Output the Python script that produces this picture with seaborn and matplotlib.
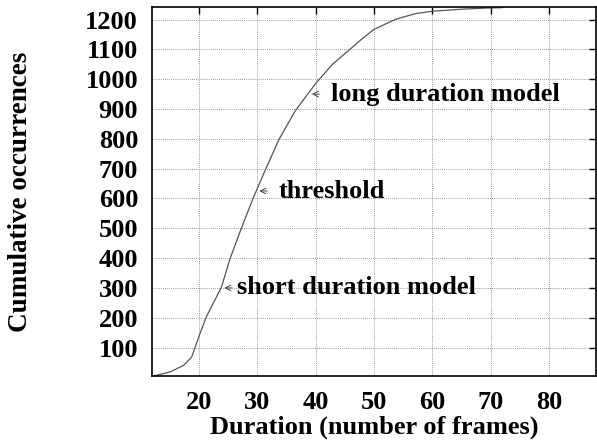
import matplotlib
matplotlib.use("Agg")
import matplotlib.pyplot as plt
import seaborn as sns
import pandas as pd

# cumulative curve
duration = [12, 12.8, 15.1, 17.4, 18.8, 19.9, 21.3, 23.9, 25.4, 27.3, 29.3, 31.5,
            33.8, 36.5, 40.0, 42.9, 45.7, 48.0, 50.0, 53.7, 57.1, 60, 65.1, 69.7, 72]
occurrences = [4, 7, 18, 40, 68, 130, 203, 303, 400, 500, 600, 700,
               800, 893, 985, 1050, 1097, 1136, 1167, 1201, 1220, 1228, 1235, 1239, 1240]

x_ticks = [20, 30, 40, 50, 60, 70, 80]
y_ticks = [100, 200, 300, 400, 500, 600, 700, 800, 900, 1000, 1100, 1200]

# annotation label, arrow tip (x, y), text start x
labels = ["long duration model", "threshold", "short duration model"]
tips_x = [38.9, 29.9, 23.9]
tips_y = [950, 625, 300]
text_x = [42.6, 33.7, 26.5]

sns.set_style("white")
plt.rcParams['font.family'] = ['Liberation Serif', 'DejaVu Serif']
plt.rcParams['font.weight'] = 'bold'
plt.rcParams['text.color'] = 'black'
plt.rcParams['axes.labelcolor'] = 'black'
plt.rcParams['xtick.color'] = 'black'
plt.rcParams['ytick.color'] = 'black'

df = pd.DataFrame({"Duration": duration, "Occurrences": occurrences})

fig = plt.figure(figsize=(5.97, 4.42), dpi=100)
ax = fig.add_axes([0.2546, 0.149, 0.7434, 0.835])

sns.lineplot(data=df, x="Duration", y="Occurrences", ax=ax,
             color="#555555", linewidth=0.9)

ax.set_xlim(12, 88)
ax.set_ylim(4, 1242)
ax.set_xticks(x_ticks)
ax.set_yticks(y_ticks)
ax.grid(True, color="#777777", linestyle=(0, (1, 1.5)), linewidth=0.6)
ax.tick_params(direction="in", length=5, width=1, top=True, right=True,
               labelsize=19)
ax.tick_params(axis="x", pad=11)
ax.tick_params(axis="y", pad=10)
for lab in ax.get_xticklabels() + ax.get_yticklabels():
    lab.set_fontweight("bold")
for sp in ax.spines.values():
    sp.set_color("black")
    sp.set_linewidth(1.2)

ax.set_xlabel("Duration (number of frames)", fontsize=19, fontweight="bold", labelpad=1)
ax.set_ylabel("Cumulative occurrences", fontsize=19.5, fontweight="bold", labelpad=38)

for lab, tx, ty, sx in zip(labels, tips_x, tips_y, text_x):
    ax.annotate("", xy=(tx, ty), xytext=(tx + 2.3, ty),
                arrowprops=dict(arrowstyle="->", color="#444444", lw=0.7))
    ax.text(sx, ty, lab, fontsize=19, fontweight="bold", va="center", ha="left")

fig.savefig("out.png", dpi=100)
